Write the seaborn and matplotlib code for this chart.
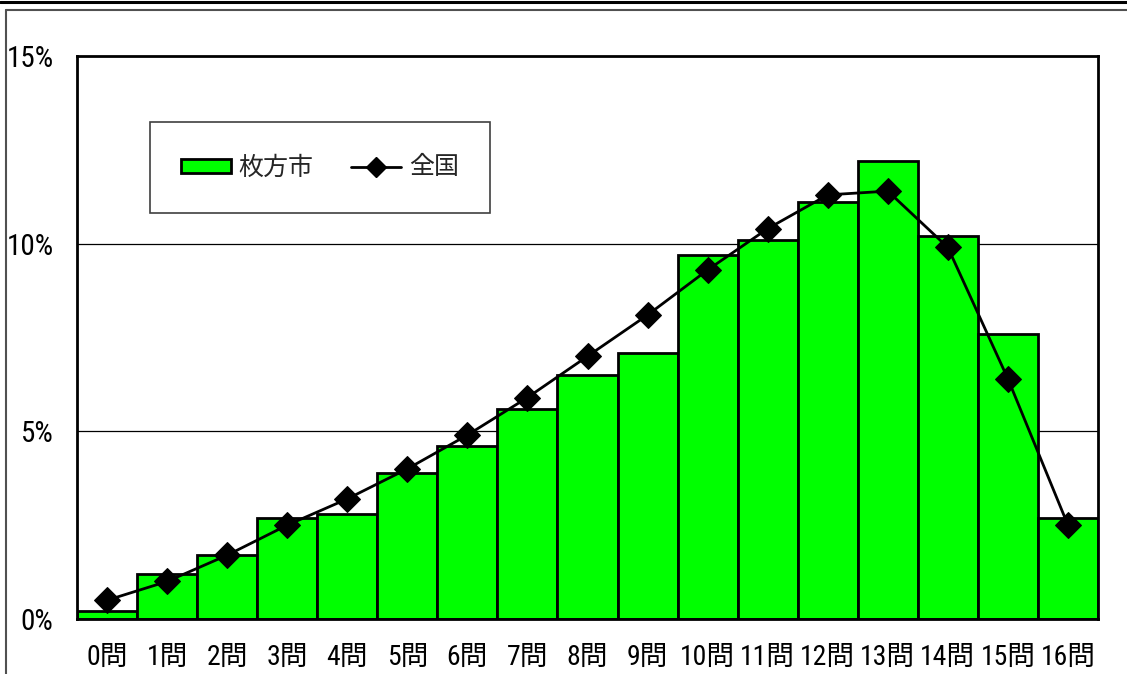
import numpy as np
import pandas as pd
import matplotlib
matplotlib.use("Agg")
import matplotlib.pyplot as plt
import seaborn as sns
from matplotlib.patches import Patch, Rectangle
from matplotlib.lines import Line2D
from matplotlib.ticker import FuncFormatter, FixedLocator

# ---- data ----
categories = [f"{i}問" for i in range(17)]
hirakata = [0.2, 1.2, 1.7, 2.7, 2.8, 3.9, 4.6, 5.6, 6.5, 7.1, 9.7, 10.1, 11.1, 12.2, 10.2, 7.6, 2.7]
national = [0.5, 1.0, 1.7, 2.5, 3.2, 4.0, 4.9, 5.9, 7.0, 8.1, 9.3, 10.4, 11.3, 11.4, 9.9, 6.4, 2.5]
series_names = ["枚方市", "全国"]
y_ticks = [0, 5, 10, 15]

sns.set_style("white")
tick_family = ['Roboto Condensed', 'Archivo Narrow', 'PT Sans Narrow', 'Noto Sans CJK JP', 'DejaVu Sans']
plt.rcParams['font.family'] = tick_family

W, H = 1127, 674
fig = plt.figure(figsize=(W / 100, H / 100), dpi=100)
L, R, T, B = 77, 1098, 56, 619
ax = fig.add_axes([L / W, (H - B) / H, (R - L) / W, (B - T) / H])

df = pd.DataFrame({"cat": categories, "val": hirakata})
sns.barplot(data=df, x="cat", y="val", ax=ax, color="#00FF00", width=1.0,
            edgecolor="black", linewidth=2, saturation=1, zorder=2)

dfl = pd.DataFrame({"x": np.arange(len(categories)), "val": national})
sns.lineplot(data=dfl, x="x", y="val", ax=ax, color="black", linewidth=2.0,
             marker="D", markersize=13.5, markeredgecolor="black", zorder=4)

ax.set_xlim(-0.5, len(categories) - 0.5)
ax.set_ylim(0, 15)
ax.yaxis.set_major_locator(FixedLocator(y_ticks))
ax.yaxis.set_major_formatter(FuncFormatter(lambda v, p: f"{int(v)}%"))
for yv in y_ticks[1:-1]:
    ax.axhline(yv, color="black", linewidth=0.9, zorder=1)
ax.set_xlabel("")
ax.set_ylabel("")
ax.tick_params(axis="both", length=0, colors="black")
ax.tick_params(axis="x", pad=18, labelsize=20)
ax.tick_params(axis="y", pad=17, labelsize=21)
for s in ax.spines.values():
    s.set_visible(True)
    s.set_color("black")
    s.set_linewidth(2)

# legend frame
lx0, lx1, ly0, ly1 = 150, 490, 122, 213
ax.add_patch(Rectangle(((lx0 - L) / (R - L), (B - ly1) / (B - T)),
                       (lx1 - lx0) / (R - L), (ly1 - ly0) / (B - T),
                       transform=ax.transAxes, facecolor="white",
                       edgecolor="#404040", linewidth=1.2, zorder=5))
handles = [Patch(facecolor="#00FF00", edgecolor="black", linewidth=2),
           Line2D([], [], color="black", linewidth=2.0, marker="D", markersize=10)]
leg = ax.legend(handles, series_names, loc="center",
                bbox_to_anchor=(((lx0 + lx1) / 2 - L) / (R - L), (B - (ly0 + ly1) / 2) / (B - T)),
                ncol=2, frameon=False, handlelength=2.0, handleheight=0.5,
                handletextpad=0.3, columnspacing=1.5,
                prop={"family": ["Noto Sans CJK JP"], "size": 18})
leg.set_zorder(6)

# outer frame lines
fig.add_artist(Line2D([0, 1], [1 - 1.5 / H, 1 - 1.5 / H], color="black", linewidth=2.2,
                      transform=fig.transFigure))
fig.add_artist(Line2D([6 / W, 1], [1 - 10 / H, 1 - 10 / H], color="#505050", linewidth=1.5,
                      transform=fig.transFigure))
fig.add_artist(Line2D([6 / W, 6 / W], [0, 1 - 10 / H], color="#505050", linewidth=1.5,
                      transform=fig.transFigure))

fig.savefig("out.png", dpi=100)
